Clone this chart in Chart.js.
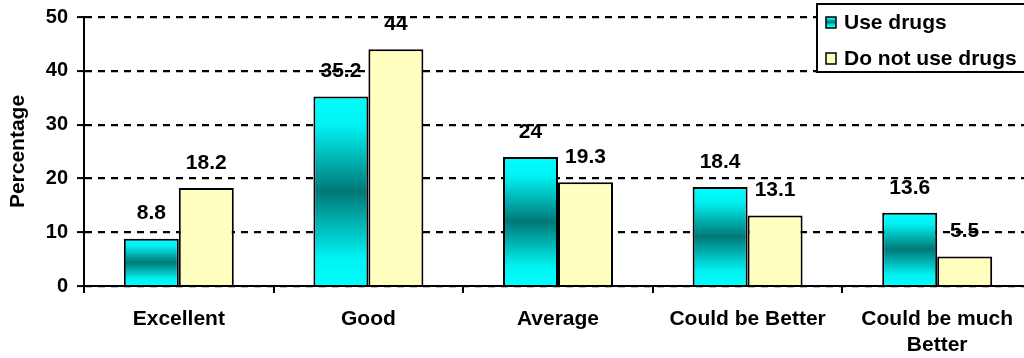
<!DOCTYPE html>
<html lang="en">
<head>
  <meta charset="UTF-8" />
  <title>Use drugs vs Do not use drugs</title>
  <script src="https://cdn.jsdelivr.net/npm/chart.js"></script>
  <style>
    html, body {
      margin: 0;
      background: #fff;
      overflow: hidden;
    }
    #wrap {
      width: 1034px;
      height: 358px;
    }
  </style>
</head>
<body>
  <div id="wrap">
    <canvas id="drugChart" width="1034" height="358"></canvas>
  </div>

  <script>
    // chart data
    const categories = ['Excellent', 'Good', 'Average', 'Could be Better', ['Could be much', 'Better']];
    const useDrugs = [8.8, 35.2, 24, 18.4, 13.6];
    const noDrugs = [18.2, 44, 19.3, 13.1, 5.5];
    const seriesNames = ['Use drugs', 'Do not use drugs'];
    const yTicks = [0, 10, 20, 30, 40, 50];

    const FONT = '"Liberation Sans", Arial, sans-serif';
    const YELLOW = '#ffffc0';

    function tealGradient(ctx, top, bottom) {
      const g = ctx.createLinearGradient(0, top, 0, bottom);
      g.addColorStop(0, '#00ffff');
      g.addColorStop(0.15, '#00f2f2');
      g.addColorStop(0.5, '#007878');
      g.addColorStop(0.85, '#00f2f2');
      g.addColorStop(1, '#00ffff');
      return g;
    }

    function cyanFill(c) {
      const chart = c.chart;
      if (!chart.chartArea || c.type !== 'data') return '#00ffff';
      const y = chart.scales.y;
      return tealGradient(chart.ctx, y.getPixelForValue(c.raw), y.getPixelForValue(0));
    }

    // value labels go under the grid lines, like the original
    const valueLabels = {
      id: 'valueLabels',
      beforeDraw(chart) {
        const ctx = chart.ctx;
        ctx.save();
        ctx.font = 'bold 21px ' + FONT;
        ctx.fillStyle = '#000';
        ctx.textAlign = 'center';
        ctx.textBaseline = 'middle';
        chart.data.datasets.forEach((ds, i) => {
          chart.getDatasetMeta(i).data.forEach((bar, j) => {
            ctx.fillText(String(ds.data[j]), bar.x, bar.y - 25);
          });
        });
        ctx.restore();
      }
    };

    const boxLegend = {
      id: 'boxLegend',
      afterDraw(chart) {
        const ctx = chart.ctx;
        ctx.save();
        ctx.fillStyle = '#fff';
        ctx.fillRect(817, 4, 220, 68);
        ctx.lineWidth = 2;
        ctx.strokeStyle = '#000';
        ctx.strokeRect(817, 4, 220, 68);

        const rows = [22, 58];
        rows.forEach((cy, i) => {
          ctx.fillStyle = i === 0 ? tealGradient(ctx, cy - 5, cy + 5) : YELLOW;
          ctx.fillRect(826, cy - 5, 10, 11);
          ctx.lineWidth = 1.5;
          ctx.strokeRect(826, cy - 5, 10, 11);
          ctx.fillStyle = '#000';
          ctx.font = 'bold 21px ' + FONT;
          ctx.textBaseline = 'middle';
          ctx.textAlign = 'left';
          ctx.fillText(seriesNames[i], 844, cy + 1);
        });
        ctx.restore();
      }
    };

    new Chart(document.getElementById('drugChart'), {
      type: 'bar',
      data: {
        labels: categories,
        datasets: [
          {
            label: seriesNames[0],
            data: useDrugs,
            backgroundColor: cyanFill,
            borderColor: '#000',
            borderWidth: 2,
            categoryPercentage: 0.58,
            barPercentage: 1
          },
          {
            label: seriesNames[1],
            data: noDrugs,
            backgroundColor: YELLOW,
            borderColor: '#000',
            borderWidth: 2,
            categoryPercentage: 0.58,
            barPercentage: 1
          }
        ]
      },
      options: {
        responsive: false,
        animation: false,
        layout: { padding: { top: 17, right: 2, left: 0, bottom: 0 } },
        plugins: {
          legend: { display: false },
          tooltip: { enabled: false }
        },
        scales: {
          x: {
            grid: {
              drawOnChartArea: false,
              color: '#000',
              lineWidth: 2,
              tickLength: 7
            },
            border: { color: '#000', width: 2 },
            ticks: {
              color: '#000',
              font: { family: FONT, size: 21, weight: 'bold', lineHeight: 1.25 },
              maxRotation: 0,
              autoSkip: false,
              padding: 13
            },
            afterFit(scale) { scale.height = 72; }
          },
          y: {
            min: 0,
            max: 50,
            afterBuildTicks(scale) {
              scale.ticks = yTicks.map(v => ({ value: v }));
            },
            grid: {
              color: '#000',
              lineWidth: 2.2,
              tickLength: 7,
              tickColor: '#000',
              tickWidth: 2,
              tickBorderDash: []
            },
            border: { color: '#000', width: 2, dash: [7, 6] },
            ticks: {
              color: '#000',
              font: { family: FONT, size: 20, weight: 'bold' },
              padding: 9
            },
            title: {
              display: true,
              text: 'Percentage',
              color: '#000',
              font: { family: FONT, size: 21, weight: 'bold', lineHeight: 1.1 },
              padding: { top: 7, bottom: 0 }
            },
            afterFit(scale) {
              scale.width = 84;
              scale.paddingTop = 0;
              scale.paddingBottom = 0;
            }
          }
        }
      },
      plugins: [valueLabels, boxLegend]
    });
  </script>
</body>
</html>
